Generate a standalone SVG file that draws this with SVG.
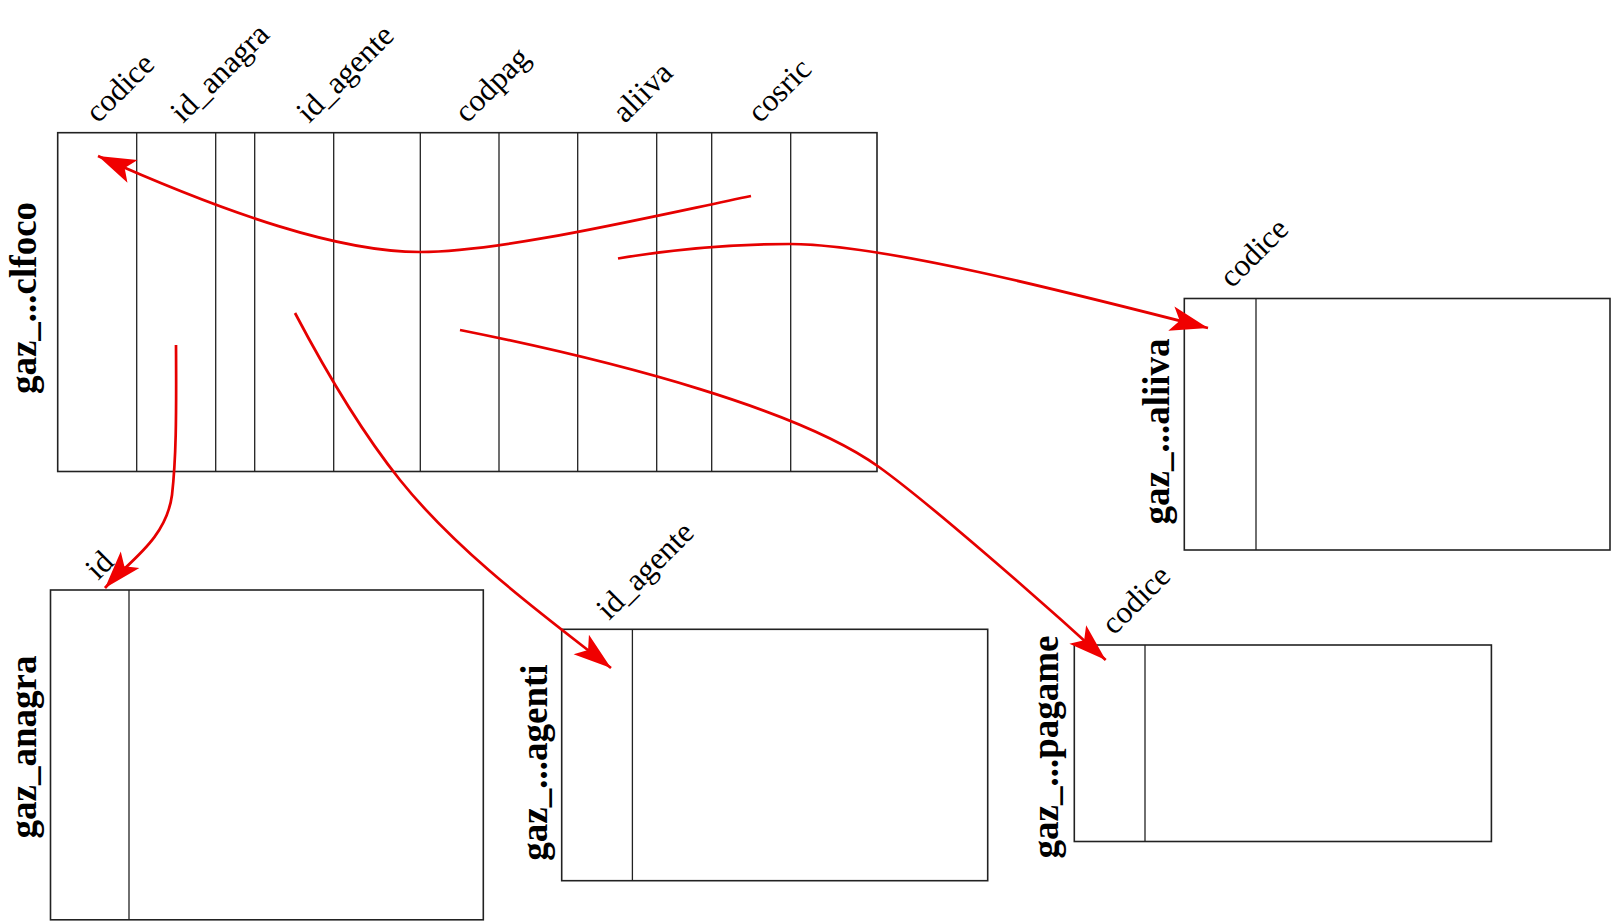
<svg xmlns="http://www.w3.org/2000/svg" width="1615" height="923" viewBox="0 0 1615 923">
<style>
.box{fill:#fff;stroke:#222;stroke-width:1.6}
.col{stroke:#222;stroke-width:1.3}
.lbl{font-family:"Liberation Serif","Times New Roman",serif;font-size:31.5px;fill:#000}
.tname{font-family:"Liberation Serif","Times New Roman",serif;font-size:37px;font-weight:bold;fill:#000;text-anchor:middle}
.fk{fill:none;stroke:#e60000;stroke-width:2.7;marker-end:url(#ah)}
</style>
<defs>
<marker id="ah" markerUnits="userSpaceOnUse" markerWidth="40" markerHeight="30" viewBox="-36 -12 37 24" refX="0" refY="0" orient="auto">
<path d="M0,0 L-35,-11.5 L-27,0 L-35,11.5 Z" fill="#f00000"/>
</marker>
</defs>
<rect width="1615" height="923" fill="#fff"/>

<g id="gaz_clfoco">
<rect class="box" x="57.7" y="132.7" width="819.3" height="338.8"/>
<path class="col" d="M136.7,132.7V471.5M215.7,132.7V471.5M254.7,132.7V471.5M333.7,132.7V471.5M420.3,132.7V471.5M499,132.7V471.5M577.7,132.7V471.5M656.7,132.7V471.5M711.7,132.7V471.5M790.7,132.7V471.5"/>
<text class="tname" transform="translate(35.5,298) rotate(-90)">gaz_...clfoco</text>
<text class="lbl" transform="translate(98,124) rotate(-45)">codice</text>
<text class="lbl" transform="translate(183,124) rotate(-45)">id_anagra</text>
<text class="lbl" transform="translate(309,124) rotate(-45)">id_agente</text>
<text class="lbl" transform="translate(467,124) rotate(-45)">codpag</text>
<text class="lbl" transform="translate(625,124) rotate(-45)">aliiva</text>
<text class="lbl" transform="translate(760,124) rotate(-45)">cosric</text>
</g>

<g id="gaz_aliiva">
<rect class="box" x="1184.3" y="298.5" width="425.7" height="251.5"/>
<path class="col" d="M1256,298.5V550"/>
<text class="tname" transform="translate(1169,431.5) rotate(-90)">gaz_...aliiva</text>
<text class="lbl" transform="translate(1232,289) rotate(-45)">codice</text>
</g>

<g id="gaz_pagame">
<rect class="box" x="1074.3" y="645" width="417.1" height="196.5"/>
<path class="col" d="M1145,645V841.5"/>
<text class="tname" transform="translate(1058,747) rotate(-90)">gaz_...pagame</text>
<text class="lbl" transform="translate(1114,636) rotate(-45)">codice</text>
</g>

<g id="gaz_agenti">
<rect class="box" x="561.7" y="629.3" width="426" height="251.4"/>
<path class="col" d="M632.4,629.3V880.7"/>
<text class="tname" transform="translate(546.5,762.5) rotate(-90)">gaz_...agenti</text>
<text class="lbl" transform="translate(609,621) rotate(-45)">id_agente</text>
</g>

<g id="gaz_anagra">
<rect class="box" x="50.5" y="590" width="432.8" height="329.8"/>
<path class="col" d="M129,590V919.8"/>
<text class="tname" transform="translate(35.7,747) rotate(-90)">gaz_anagra</text>
<text class="lbl" transform="translate(98,581) rotate(-45)">id</text>
</g>

<g id="connectors">
<path class="fk" d="M751,196 C640,219 500,252 420,252 C340,252 230,215 98,156"/>
<path class="fk" d="M618,258.5 C680,248 740,244 790,244 C880,244 1060,290 1208,328"/>
<path class="fk" d="M176,345 C176.5,420 176,460 172,495 C166,540 128,562 105,588"/>
<path class="fk" d="M295,313 C325,370 360,430 400,480 C460,555 550,620 611,668"/>
<path class="fk" d="M460,330 C620,362 800,410 879,467 C929,503 1040,600 1105.7,660"/>
</g>
</svg>
